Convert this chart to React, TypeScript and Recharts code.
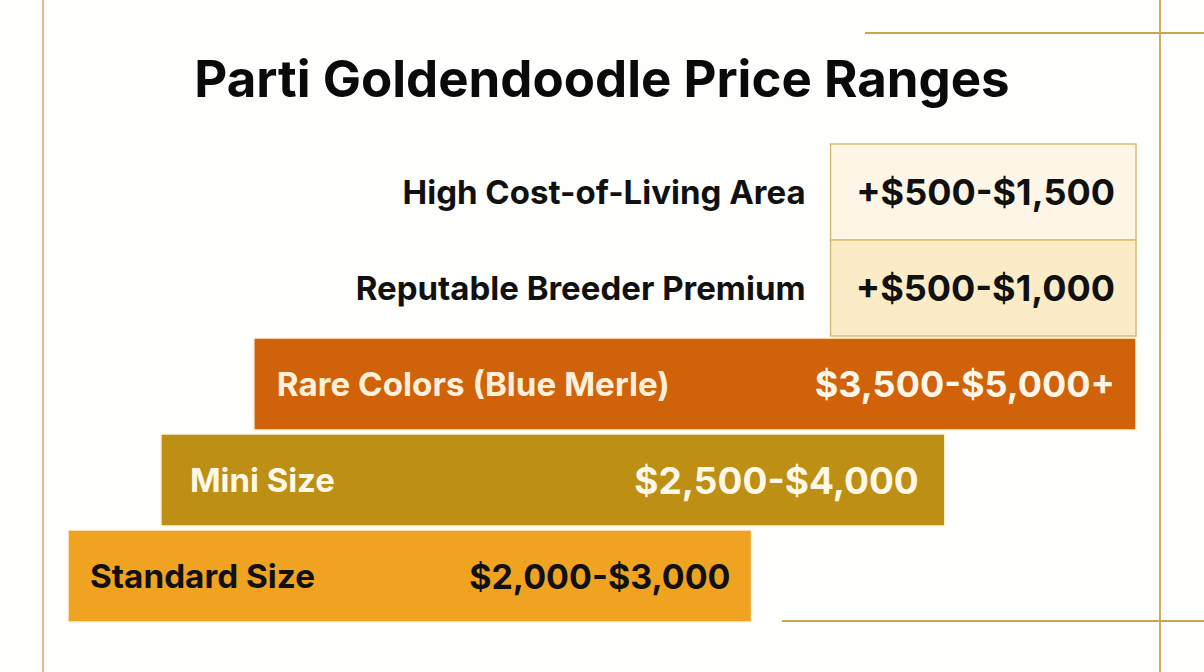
import { BarChart, Bar, XAxis, YAxis } from 'recharts'

// rows top to bottom
const categories = [
  'High Cost-of-Living Area',
  'Reputable Breeder Premium',
  'Rare Colors (Blue Merle)',
  'Mini Size',
  'Standard Size',
]
const priceLabels = ['+$500-$1,500', '+$500-$1,000', '$3,500-$5,000+', '$2,500-$4,000', '$2,000-$3,000']
// position of each step on the (hidden) layout axis, 0-100
const barStart = [71.4, 71.4, 17.4, 8.7, 0]
const barEnd = [100, 100, 100, 82.1, 64]

const chartData = categories.map((name, i) => ({ name, range: [barStart[i], barEnd[i]] }))

const FONT = 'Inter, "Noto Sans", sans-serif'

const rowStyle = [
  { fill: '#FDF6E6', stroke: '#D9BC74', labelColor: '#111', valueColor: '#111', outside: true, labelSize: 33, valueSize: 36, labelPad: 25, valuePad: 21 },
  { fill: '#FBEBC6', stroke: '#D9BC74', labelColor: '#111', valueColor: '#111', outside: true, labelSize: 33, valueSize: 36, labelPad: 25, valuePad: 21 },
  { fill: '#D0620A', stroke: '#FFF3DA', labelColor: '#FFF0DC', valueColor: '#FFF6EA', outside: false, labelSize: 33, valueSize: 36, labelWidth: 393, labelPad: 23, valuePad: 21 },
  { fill: '#BD8F14', stroke: '#FFF3DA', labelColor: '#FFF8E8', valueColor: '#FFF8E8', outside: false, labelSize: 33, valueSize: 37, labelWidth: 145, labelPad: 29, valuePad: 26 },
  { fill: '#EFA321', stroke: '#FFF3DA', labelColor: '#111', valueColor: '#111', outside: false, labelSize: 33, valueSize: 34, labelWidth: 225, labelPad: 22, valuePad: 21 },
]

function StepBar(props: any) {
  const { x, y, width, height, payload } = props
  const i = categories.indexOf(payload.name)
  const s = rowStyle[i]
  const cy = y + height / 2
  const by = s.outside ? y - 2 : y
  const bh = s.outside ? height + 4 : height
  return (
    <g>
      <rect x={x} y={by} width={width} height={bh} fill={s.fill} stroke={s.stroke} strokeWidth={1.5} />
      {s.outside ? (
        <text x={x - s.labelPad} y={cy} textAnchor="end" dominantBaseline="central" fill={s.labelColor}
          fontFamily={FONT} fontWeight={700} fontSize={s.labelSize}>
          {categories[i]}
        </text>
      ) : (
        <text x={x + s.labelPad} y={cy} dominantBaseline="central" fill={s.labelColor}
          fontFamily={FONT} fontWeight={700} fontSize={s.labelSize}
          textLength={s.labelWidth} lengthAdjust="spacingAndGlyphs">
          {categories[i]}
        </text>
      )}
      <text x={x + width - s.valuePad} y={cy} textAnchor="end" dominantBaseline="central" fill={s.valueColor}
        fontFamily={FONT} fontWeight={700} fontSize={s.valueSize}>
        {priceLabels[i]}
      </text>
    </g>
  )
}

export default function App() {
  return (
    <div style={{ position: 'absolute', left: 0, top: 0, width: 1204, height: 672, background: '#FEFEFD' }}>
      {/* frame lines + title */}
      <svg width={1204} height={672} style={{ position: 'absolute', left: 0, top: 0 }}>
        <line x1={43} y1={0} x2={43} y2={672} stroke="#D9C08A" strokeWidth={2} />
        <line x1={1160} y1={0} x2={1160} y2={672} stroke="#CDAA5C" strokeWidth={2} />
        <line x1={865} y1={33} x2={1204} y2={33} stroke="#CDA550" strokeWidth={2} />
        <line x1={782} y1={621} x2={1204} y2={621} stroke="#CDA550" strokeWidth={2} />
        <text x={602} y={78} textAnchor="middle" dominantBaseline="central" fontFamily={FONT}
          fontWeight={700} fontSize={51} fill="#0A0A0A">
          Parti Goldendoodle Price Ranges
        </text>
      </svg>
      <div style={{ position: 'absolute', left: 0, top: 0 }}>
        <BarChart
          width={1204}
          height={672}
          data={chartData}
          layout="vertical"
          margin={{ top: 144, right: 68, bottom: 48, left: 68 }}
          barCategoryGap={2}
        >
          <XAxis type="number" domain={[0, 100]} hide />
          <YAxis type="category" dataKey="name" hide />
          <Bar dataKey="range" shape={StepBar} isAnimationActive={false} />
        </BarChart>
      </div>
    </div>
  )
}
